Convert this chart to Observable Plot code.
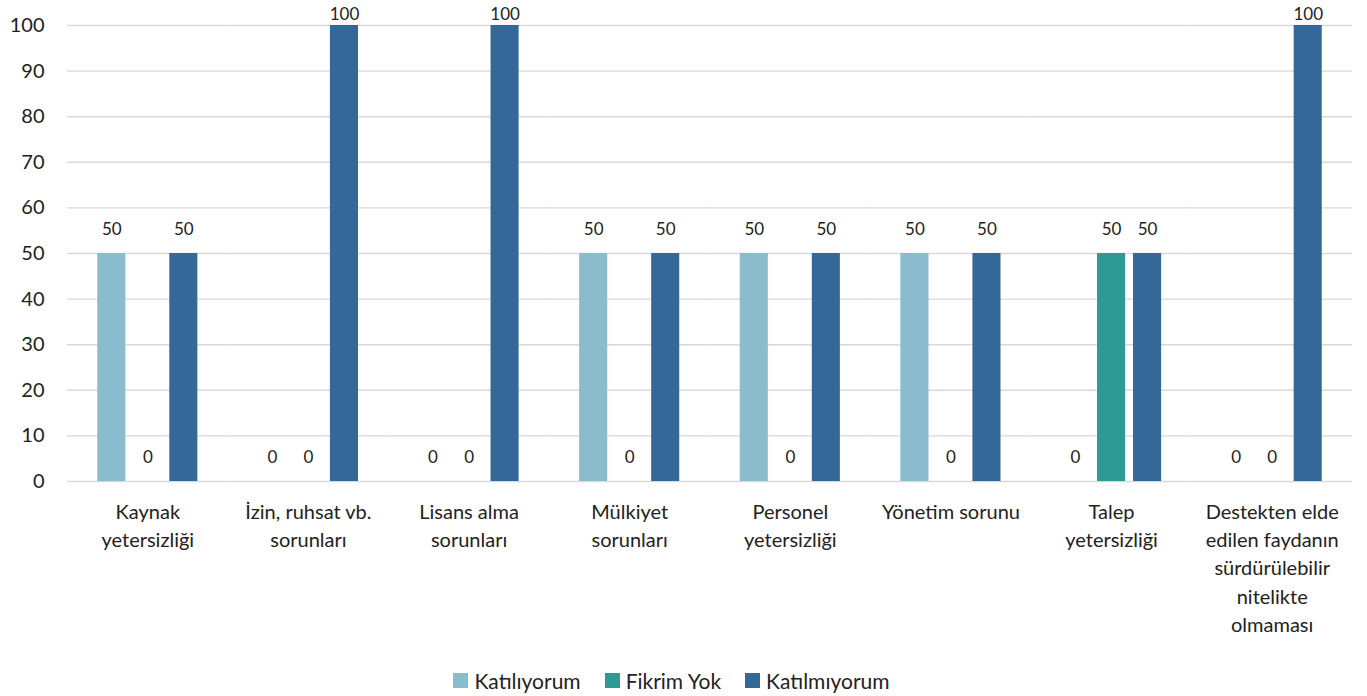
<!DOCTYPE html>
<html>
<head>
<meta charset="utf-8">
<script src="https://cdn.jsdelivr.net/npm/d3@7"></script>
<script src="https://cdn.jsdelivr.net/npm/@observablehq/plot@0.6"></script>
<style>
  html, body { margin: 0; padding: 0; background: #fff; }
  #chart { width: 1367px; }
  .lg-swatches { justify-content: center; }
  .lg-swatch { margin-right: 24px !important; }
  .lg-swatch > svg { margin-right: 6px !important; }
</style>
</head>
<body>
<div id="chart"></div>
<script>
const categories = [
  "Kaynak\nyetersizliği",
  "İzin, ruhsat vb.\nsorunları",
  "Lisans alma\nsorunları",
  "Mülkiyet\nsorunları",
  "Personel\nyetersizliği",
  "Yönetim sorunu",
  "Talep\nyetersizliği",
  "Destekten elde\nedilen faydanın\nsürdürülebilir\nnitelikte\nolmaması"
];
const series = ["Katılıyorum", "Fikrim Yok", "Katılmıyorum"];
const katiliyorum  = [50, 0, 0, 50, 50, 50, 0, 0];
const fikrimYok    = [0, 0, 0, 0, 0, 0, 50, 0];
const katilmiyorum = [50, 100, 100, 50, 50, 50, 50, 100];
const seriesColors = ["#8BBCCE", "#2F9A94", "#346899"];
const yTicks = [0, 10, 20, 30, 40, 50, 60, 70, 80, 90, 100];

const valuesBySeries = [katiliyorum, fikrimYok, katilmiyorum];
const data = categories.flatMap((c, i) =>
  series.map((s, j) => ({ category: c, series: s, value: valuesBySeries[j][i] }))
);

const chart = Plot.plot({
  width: 1367,
  height: 650,
  marginTop: 25,
  marginLeft: 67,
  marginRight: 15,
  marginBottom: 169,
  style: { fontFamily: "Lato, sans-serif", fontSize: "19px", color: "#222", background: "#fff" },
  fx: { domain: categories, padding: 0, round: false, label: null },
  x: { domain: series, axis: null, round: false, paddingInner: 0.22, paddingOuter: 0.84 },
  y: { domain: [0, 100], label: null },
  color: { domain: series, range: seriesColors },
  marks: [
    Plot.gridY(yTicks, { stroke: "#d9d9d9", strokeOpacity: 1, strokeWidth: 1.4 }),
    Plot.axisY(yTicks, { tickSize: 0, tickPadding: 23, fontSize: 20, label: null }),
    Plot.axisFx({ anchor: "bottom", tickSize: 0, tickPadding: 17, lineHeight: 1.42, fontSize: 20, label: null }),
    Plot.barY(data, { fx: "category", x: "series", y: "value", fill: "series" }),
    Plot.text(data.filter(d => d.value < 100), {
      fx: "category", x: "series", y: "value", text: d => String(d.value),
      dy: -24, fontSize: 17, fill: "#222"
    }),
    Plot.text(data.filter(d => d.value >= 100), {
      fx: "category", x: "series", y: "value", text: d => String(d.value),
      dy: -11, fontSize: 17, fill: "#222"
    })
  ]
});

document.getElementById("chart").appendChild(chart);
const legend = chart.legend("color", {
  className: "lg",
  swatchSize: 15,
  style: { fontFamily: "Lato, sans-serif", fontSize: "21px", color: "#222" }
});
legend.style.justifyContent = "center";
legend.style.marginTop = "14px";
document.getElementById("chart").appendChild(legend);
</script>
</body>
</html>
